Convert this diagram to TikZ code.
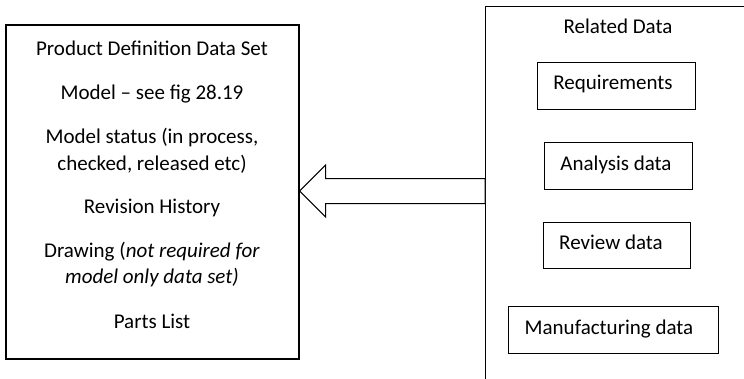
\documentclass[tikz,border=0pt]{standalone}
\usepackage{fontspec}
\setmainfont{Carlito}
\begin{document}
\begin{tikzpicture}[x=1pt,y=-1pt,line width=1pt,
  txt/.style={font=\fontsize{21}{26}\selectfont, inner sep=0pt, anchor=base},
  databox/.style={draw, line width=0.9pt, inner sep=0pt}]
\useasboundingbox (0,0) rectangle (744,378);
% left box
\node[draw, line width=1.1pt, minimum width=293pt, minimum height=334pt, inner sep=0pt] (pdds) at (152.5,192) {};
\node[txt] (t1) at (152,55) {Product Definition Data Set};
\node[txt] (t2) at (152,99) {Model -- see fig 28.19};
\node[txt] (t3a) at (152,143) {Model status (in process,};
\node[txt] (t3b) at (152,170) {checked, released etc)};
\node[txt] (t4) at (152,213) {Revision History};
\node[txt] (t5a) at (152,257) {Drawing (\textit{not required for}};
\node[txt] (t5b) at (152,283) {\textit{model only data set)}};
\node[txt] (t6) at (152,328) {Parts List};
% right box (cut off)
\coordinate (rtr) at (760,6);
\coordinate (rtl) at (485,6);
\coordinate (rbl) at (485,390);
\draw[line width=0.9pt] (rtr) -- (rtl) -- (rbl);
\node[txt] (rd) at (618,33) {Related Data};
\node[databox, minimum width=158pt, minimum height=47pt] (req) at (616,85.5) {};
\node[txt] (reqt) at (613,89) {Requirements};
\node[databox, minimum width=148pt, minimum height=47pt] (ana) at (618,165.5) {};
\node[txt] (anat) at (616,170) {Analysis data};
\node[databox, minimum width=147pt, minimum height=46pt] (rev) at (616.5,245) {};
\node[txt] (revt) at (611,249) {Review data};
\node[databox, minimum width=210pt, minimum height=47pt] (man) at (613,329.5) {};
\node[txt] (mant) at (609,334) {Manufacturing data};
% block arrow
\coordinate (tip) at (pdds.east |- 0,191);
\coordinate (base) at (rtl |- 0,191);
\draw[line width=1pt, fill=white, line join=miter]
  ([yshift=-12.5pt]base) -- ([xshift=26pt,yshift=-12.5pt]tip) -- ([xshift=26pt,yshift=-26pt]tip)
  -- (tip) -- ([xshift=26pt,yshift=26pt]tip) -- ([xshift=26pt,yshift=12.5pt]tip)
  -- ([yshift=12.5pt]base) -- cycle;
\end{tikzpicture}
\end{document}
